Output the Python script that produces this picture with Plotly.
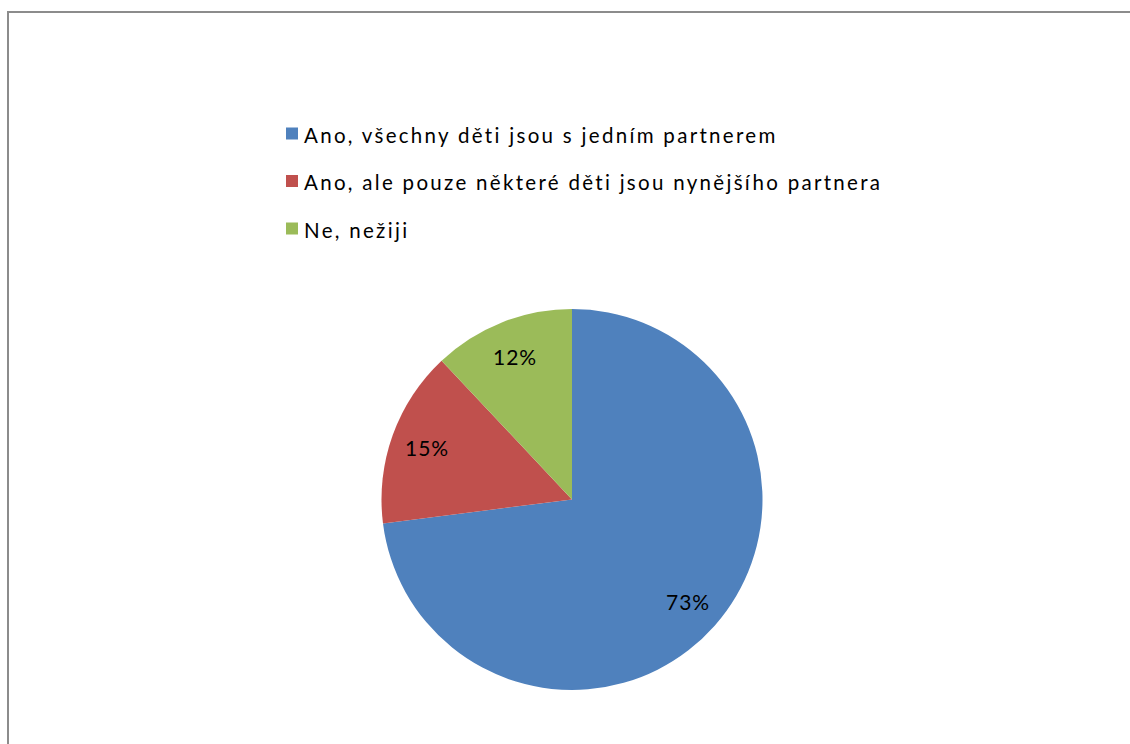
import math
import plotly.graph_objects as go

# Survey answers and their shares (percent)
labels = [
    "Ano, všechny děti jsou s jedním partnerem",
    "Ano, ale pouze některé děti jsou nynějšího partnera",
    "Ne, nežiji",
]
values = [73, 15, 12]
colors = ["#4F81BD", "#C0504D", "#9BBB59"]

W, H = 1130, 744
FONT = "Lato"

# pie geometry in pixels
cx, cy, rad = 572, 499.5, 190.5


def px(x):
    return x / W


def py(y):
    return 1 - y / H


fig = go.Figure()
fig.add_trace(go.Pie(
    labels=labels,
    values=values,
    marker=dict(colors=colors, line=dict(width=0)),
    sort=False,
    direction="clockwise",
    rotation=0,
    textinfo="none",
    hoverinfo="label+percent",
    showlegend=False,
    domain=dict(x=[px(cx - rad), px(cx + rad)], y=[py(cy + rad), py(cy - rad)]),
))

annotations = []
shapes = []

# percentage labels along each slice's bisector
total = sum(values)
cum = 0
for v in values:
    mid = (cum + v / 2) / total * 2 * math.pi
    cum += v
    lx = cx + 0.81 * rad * math.sin(mid)
    ly = cy - 0.81 * rad * math.cos(mid)
    annotations.append(dict(
        x=px(lx), y=py(ly), xref="paper", yref="paper",
        text=f'<span style="letter-spacing:1px">{v}%</span>',
        showarrow=False, xanchor="center", yanchor="middle",
        font=dict(family=FONT, size=21, color="#000000"),
    ))

# legend block above the pie
row_y = [133.5, 181, 228.5]
for lab, col, yy in zip(labels, colors, row_y):
    shapes.append(dict(
        type="rect", xref="paper", yref="paper",
        x0=px(286), x1=px(298), y0=py(yy - 6), y1=py(yy + 6),
        fillcolor=col, line=dict(width=0),
    ))
    annotations.append(dict(
        x=px(302), y=py(yy + 1), xref="paper", yref="paper",
        text=f'<span style="letter-spacing:2.3px">{lab}</span>',
        showarrow=False, xanchor="left", yanchor="middle",
        font=dict(family=FONT, size=20.5, color="#000000"),
    ))

# chart frame
shapes.append(dict(
    type="rect", xref="paper", yref="paper",
    x0=px(8), x1=px(1150), y0=py(760), y1=py(12),
    line=dict(color="#8c8c8c", width=2), fillcolor="rgba(0,0,0,0)",
))

fig.update_layout(
    width=W, height=H,
    margin=dict(l=0, r=0, t=0, b=0),
    paper_bgcolor="white", plot_bgcolor="white",
    annotations=annotations, shapes=shapes,
    font=dict(family=FONT),
)

fig.write_html("out.html")
